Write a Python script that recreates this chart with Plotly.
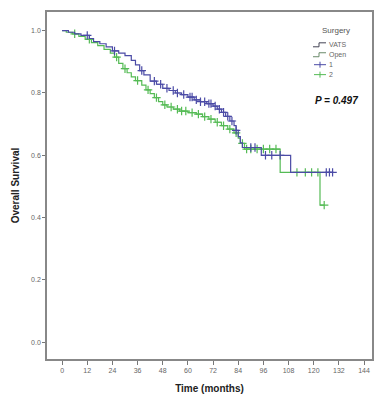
import numpy as np
import plotly.graph_objects as go

# ---- data ----
vats_time = [0, 3, 6, 9, 13, 15, 18, 21, 24, 27, 30, 33, 35, 37, 39, 42, 45, 48, 51, 54, 57, 60,
             63, 66, 69, 72, 74, 76, 78, 80, 82, 83, 84, 85, 86, 95, 109]
vats_surv = [1.0, 0.995, 0.99, 0.985, 0.975, 0.965, 0.958, 0.948, 0.935, 0.928, 0.92, 0.905, 0.89,
             0.872, 0.858, 0.838, 0.828, 0.815, 0.808, 0.80, 0.795, 0.787, 0.778, 0.772, 0.766, 0.758,
             0.748, 0.738, 0.725, 0.71, 0.695, 0.68, 0.66, 0.64, 0.625, 0.60, 0.545]
vats_end = 129
vats_censor = [12, 25, 38, 44, 47, 50, 53, 55, 58, 61, 62, 64, 66, 68, 70, 71, 73, 75, 77, 79, 81,
               83, 90, 92, 97, 100, 104, 126, 127.5, 129]

open_time = [0, 2, 5, 8, 11, 14, 17, 20, 23, 25, 27, 29, 31, 33, 35, 38, 40, 42, 44, 46, 48, 50,
             53, 56, 60, 64, 67, 70, 73, 76, 79, 82, 84, 85, 87, 104, 123]
open_surv = [1.0, 0.995, 0.99, 0.982, 0.972, 0.962, 0.952, 0.94, 0.928, 0.915, 0.895, 0.878, 0.865,
             0.852, 0.84, 0.825, 0.81, 0.798, 0.785, 0.772, 0.762, 0.755, 0.748, 0.742, 0.737, 0.732,
             0.724, 0.716, 0.706, 0.695, 0.684, 0.672, 0.655, 0.638, 0.62, 0.545, 0.44]
open_end = 125
open_censor = [6, 13, 26, 30, 36, 41, 45, 49, 52, 55, 57, 59, 62, 65, 68, 71, 74, 77, 80, 83, 86,
               88, 90, 93, 96, 99, 102, 112, 116, 119, 122, 125]

x_ticks = [0, 12, 24, 36, 48, 60, 72, 84, 96, 108, 120, 132, 144]
y_ticks = [0.0, 0.2, 0.4, 0.6, 0.8, 1.0]
legend_title = "Surgery"
legend_labels = ["VATS", "Open", "1", "2"]
p_text = "P = 0.497"

BLUE = "#4b4ba6"
GREEN = "#55bb55"
FONT = "Liberation Sans, Arial, sans-serif"

# page has an 8px body margin; plot area wanted at x 47..372, y 10..359 in window pixels
OFF = 8
L, R, T, B = 47 - OFF, 386 - 372 + OFF, 10 - OFF, 406 - 359 + OFF
PW, PH = 372 - 47, 359 - 10


def km_at(times, survs, t):
    idx = np.searchsorted(np.array(times), t, side="right") - 1
    return float(np.array(survs)[idx])


fig = go.Figure()
for times, survs, end, cens, col in [
    (open_time, open_surv, open_end, open_censor, GREEN),
    (vats_time, vats_surv, vats_end, vats_censor, BLUE),
]:
    fig.add_trace(go.Scatter(x=list(times) + [end], y=list(survs) + [survs[-1]],
                             mode="lines", line=dict(color=col, width=1.2, shape="hv"),
                             showlegend=False, hoverinfo="skip"))
    fig.add_trace(go.Scatter(x=cens, y=[km_at(times, survs, c) for c in cens], mode="markers",
                             marker=dict(symbol="cross-thin", size=6, line=dict(color=col, width=1.2)),
                             showlegend=False, hoverinfo="skip"))


# ---- custom legend (compact SPSS-like spacing), positions in window pixels ----
def px_x(p):
    return (p - 47) / PW


def px_y(p):
    return (359 - p) / PH


shapes = []
annots = []
annots.append(dict(x=px_x(336), y=px_y(29), xref="paper", yref="paper", text=legend_title,
                   showarrow=False, font=dict(size=8, color="#555", family=FONT),
                   xanchor="center", yanchor="middle"))
leg = [("#445", "step", 43), ("#6a8a6a", "step", 53), (BLUE, "cross", 63), (GREEN, "cross", 73)]
for label, (col, kind, py) in zip(legend_labels, leg):
    if kind == "step":
        shapes.append(dict(type="path", xref="paper", yref="paper",
                           path=f"M {px_x(313)} {px_y(py+2)} L {px_x(319)} {px_y(py+2)} "
                                f"L {px_x(319)} {px_y(py-2)} L {px_x(326)} {px_y(py-2)}",
                           line=dict(color=col, width=1)))
    else:
        shapes.append(dict(type="line", xref="paper", yref="paper", x0=px_x(314), x1=px_x(326),
                           y0=px_y(py), y1=px_y(py), line=dict(color=col, width=1)))
        shapes.append(dict(type="line", xref="paper", yref="paper", x0=px_x(320), x1=px_x(320),
                           y0=px_y(py - 3), y1=px_y(py + 3), line=dict(color=col, width=1)))
    annots.append(dict(x=px_x(327), y=px_y(py), xref="paper", yref="paper", text=label,
                       showarrow=False, font=dict(size=7, color="#666", family=FONT),
                       xanchor="left", yanchor="middle"))

annots.append(dict(x=px_x(336), y=px_y(99), xref="paper", yref="paper",
                   text=f"<b><i>{p_text}</i></b>", showarrow=False,
                   font=dict(size=10, color="#111", family=FONT), xanchor="center", yanchor="middle"))

fig.update_layout(
    width=386, height=406,
    margin=dict(l=L, r=R, t=T, b=B),
    paper_bgcolor="white", plot_bgcolor="white",
    showlegend=False,
    shapes=shapes, annotations=annots,
    font=dict(family=FONT),
)
fig.update_xaxes(range=[-7.2, 147.8], tickmode="array", tickvals=x_ticks,
                 ticktext=[str(v) for v in x_ticks], ticks="outside", ticklen=4, tickcolor="#777",
                 tickfont=dict(size=7, color="#666"), showgrid=False, zeroline=False,
                 showline=True, linecolor="#888", linewidth=1.5, mirror=True,
                 title=dict(text="<b>Time (months)</b>", font=dict(size=10, color="#222"), standoff=12))
fig.update_yaxes(range=[-0.054, 1.06], tickmode="array", tickvals=y_ticks,
                 ticktext=[f"{v:.1f}" for v in y_ticks], ticks="outside", ticklen=3, tickcolor="#777",
                 tickfont=dict(size=7, color="#666"), showgrid=False, zeroline=False,
                 showline=True, linecolor="#888", linewidth=1.5, mirror=True,
                 title=dict(text="<b>Overall Survival</b>", font=dict(size=10, color="#222"), standoff=10))

fig.write_html("out.html")
